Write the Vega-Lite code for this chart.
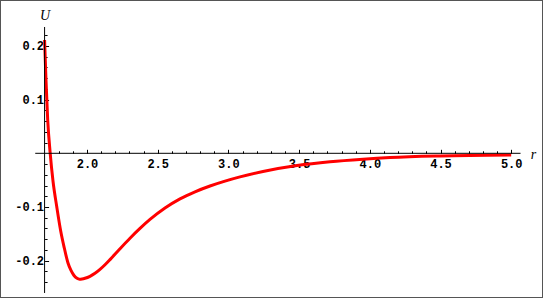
{
  "$schema": "https://vega.github.io/schema/vega-lite/v6.json",
  "width": 543,
  "height": 298,
  "padding": 0,
  "autosize": {"type": "none"},
  "background": "white",
  "config": {"view": {"stroke": "#555555", "strokeWidth": 2}},
  "resolve": {"axis": {"x": "independent", "y": "independent"}},
  "layer": [
    {
      "data": {"values": [
        {"r": 1.7000, "U": 0.2110},
        {"r": 1.7100, "U": 0.1365},
        {"r": 1.7221, "U": 0.0620},
        {"r": 1.7398, "U": 0.0000},
        {"r": 1.7595, "U": -0.0516},
        {"r": 1.7864, "U": -0.1000},
        {"r": 1.8140, "U": -0.1447},
        {"r": 1.8395, "U": -0.1764},
        {"r": 1.8656, "U": -0.2043},
        {"r": 1.8868, "U": -0.2182},
        {"r": 1.9081, "U": -0.2276},
        {"r": 1.9293, "U": -0.2328},
        {"r": 1.9470, "U": -0.2345},
        {"r": 1.9646, "U": -0.2341},
        {"r": 1.9859, "U": -0.2328},
        {"r": 2.0212, "U": -0.2291},
        {"r": 2.0566, "U": -0.2235},
        {"r": 2.0919, "U": -0.2162},
        {"r": 2.1273, "U": -0.2076},
        {"r": 2.1627, "U": -0.1980},
        {"r": 2.2334, "U": -0.1777},
        {"r": 2.3041, "U": -0.1581},
        {"r": 2.3748, "U": -0.1399},
        {"r": 2.4455, "U": -0.1232},
        {"r": 2.5516, "U": -0.1019},
        {"r": 2.6577, "U": -0.0849},
        {"r": 2.7638, "U": -0.0717},
        {"r": 2.8699, "U": -0.0609},
        {"r": 2.9760, "U": -0.0518},
        {"r": 3.0820, "U": -0.0439},
        {"r": 3.2447, "U": -0.0339},
        {"r": 3.4851, "U": -0.0229},
        {"r": 3.7185, "U": -0.0158},
        {"r": 3.9519, "U": -0.0110},
        {"r": 4.1428, "U": -0.0080},
        {"r": 4.4965, "U": -0.0050},
        {"r": 5.0000, "U": -0.0032}
      ]},
      "mark": {"type": "line", "color": "#ff0000", "strokeWidth": 3, "interpolate": "monotone"},
      "encoding": {
        "x": {
          "field": "r",
          "type": "quantitative",
          "scale": {"domain": [1.38473, 5.22489], "nice": false, "zero": false},
          "axis": {
            "orient": "bottom",
            "offset": {"expr": "scale('y', 0) - height"},
            "domain": false,
            "grid": false,
            "values": [1.8, 1.9, 2.0, 2.1, 2.2, 2.3, 2.4, 2.5, 2.6, 2.7, 2.8, 2.9, 3.0, 3.1, 3.2, 3.3, 3.4, 3.5, 3.6, 3.7, 3.8, 3.9, 4.0, 4.1, 4.2, 4.3, 4.4, 4.5, 4.6, 4.7, 4.8, 4.9, 5.0],
            "labelExpr": "abs(datum.value * 2 - round(datum.value * 2)) < 0.001 ? format(datum.value, '.1f') : ''",
            "labelFont": "Liberation Mono",
            "labelFontSize": 12,
            "labelFontWeight": "bold",
            "labelColor": "#000000",
            "labelPadding": 9,
            "labelOverlap": false,
            "labelFlush": false,
            "labelBound": false,
            "tickColor": "#000000",
            "tickWidth": 1,
            "tickSize": {"condition": {"test": "abs(datum.value * 2 - round(datum.value * 2)) < 0.001", "value": -4}, "value": -2.5},
            "title": "r",
            "titleFont": "Liberation Serif",
            "titleFontStyle": "italic",
            "titleFontWeight": "normal",
            "titleFontSize": 14,
            "titleColor": "#000000",
            "titleAnchor": null,
            "titleX": 533,
            "titleY": 1,
            "titleAlign": "center",
            "titleBaseline": "middle"
          }
        },
        "y": {
          "field": "U",
          "type": "quantitative",
          "scale": {"domain": [-0.26946, 0.28547], "nice": false, "zero": false},
          "axis": {
            "orient": "left",
            "offset": {"expr": "-scale('x', 1.7)"},
            "domain": false,
            "grid": false,
            "values": [-0.24, -0.22, -0.2, -0.18, -0.16, -0.14, -0.12, -0.1, -0.08, -0.06, -0.04, -0.02, 0.02, 0.04, 0.06, 0.08, 0.1, 0.12, 0.14, 0.16, 0.18, 0.2, 0.22],
            "labelExpr": "abs(datum.value * 10 - round(datum.value * 10)) < 0.001 ? replace(format(datum.value, '.1f'), '−', '-') : ''",
            "labelFont": "Liberation Mono",
            "labelFontSize": 12,
            "labelFontWeight": "bold",
            "labelColor": "#000000",
            "labelPadding": 5,
            "labelOverlap": false,
            "labelFlush": false,
            "labelBound": false,
            "tickColor": "#000000",
            "tickWidth": 1,
            "tickSize": {"condition": {"test": "abs(datum.value * 10 - round(datum.value * 10)) < 0.001", "value": -4}, "value": -2.5},
            "title": "U",
            "titleFont": "Liberation Serif",
            "titleFontStyle": "italic",
            "titleFontWeight": "normal",
            "titleFontSize": 14,
            "titleColor": "#000000",
            "titleAngle": 0,
            "titleAnchor": null,
            "titleX": 0,
            "titleY": 15,
            "titleAlign": "center",
            "titleBaseline": "middle"
          }
        }
      }
    },
    {
      "data": {"values": [{}]},
      "mark": {"type": "rule", "color": "#000000", "strokeWidth": 1},
      "encoding": {
        "x": {"datum": 1.634, "type": "quantitative", "axis": null},
        "x2": {"datum": 5.066},
        "y": {"datum": 0, "type": "quantitative", "axis": null}
      }
    },
    {
      "data": {"values": [{}]},
      "mark": {"type": "rule", "color": "#000000", "strokeWidth": 1},
      "encoding": {
        "x": {"datum": 1.7, "type": "quantitative", "axis": null},
        "y": {"datum": -0.2601, "type": "quantitative", "axis": null},
        "y2": {"datum": 0.2352}
      }
    }
  ]
}
